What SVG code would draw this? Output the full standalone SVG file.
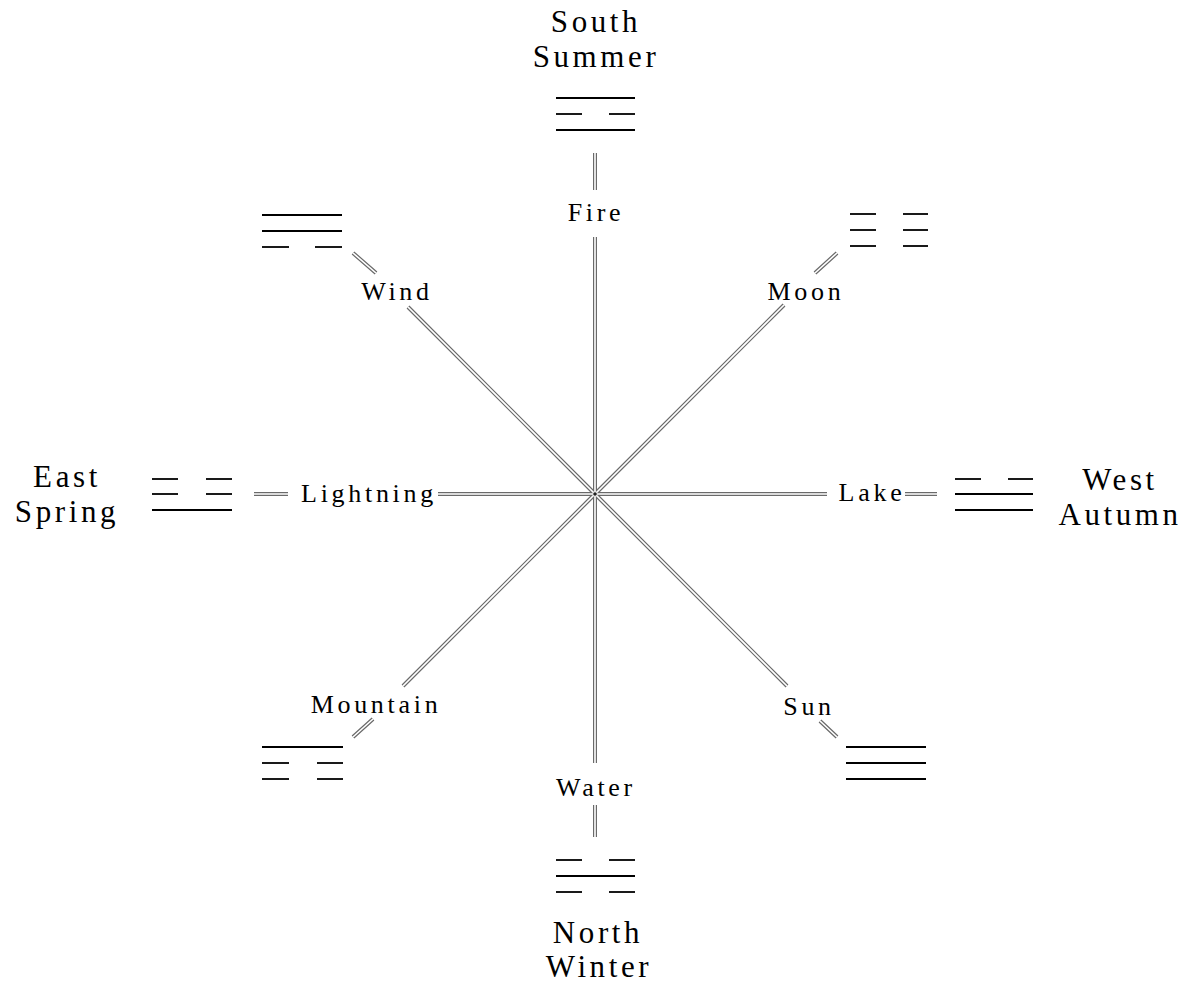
<svg xmlns="http://www.w3.org/2000/svg" xmlns:xlink="http://www.w3.org/1999/xlink" width="1186" height="983" viewBox="0 0 1186 983">
<style>
text{font-family:'Liberation Serif',serif;fill:#000;text-anchor:middle}
.big{font-size:31px;letter-spacing:3.6px}
.lbl{font-size:26px;letter-spacing:3.7px}
.tri line{stroke:#000;stroke-width:1.8}
.outer{fill:none;stroke:#6a6a6a;stroke-width:4}
.inner{fill:none;stroke:#fff;stroke-width:1.6}
</style>
<defs>
<g id="conn-paths">
<path d="M595,153 V190 M595,237 V494 V763 M595,805 V837"/>
<path d="M254,494 H288 M438,494 H827 M905,494 H937"/>
<path d="M353,253 L376,273 M408,307 L595,494 L787,686 M820,721 L837,737"/>
<path d="M837,253 L815,273 M784,305 L595,494 L403,686 M373,719 L353,737"/>
</g>
</defs>
<rect width="1186" height="983" fill="#fff"/>
<g id="connectors">
<use xlink:href="#conn-paths" class="outer"/>
<use xlink:href="#conn-paths" class="inner"/>
</g>
<g id="center">
<circle cx="595" cy="494" r="1.8" fill="#222"/>
</g>
<g id="south">
<text class="big" x="596" y="32">South</text>
<text class="big" x="596" y="67">Summer</text>
<g class="tri"><line x1="556" y1="98" x2="635" y2="98"/><line x1="556" y1="114" x2="582" y2="114"/><line x1="609" y1="114" x2="635" y2="114"/><line x1="556" y1="130" x2="635" y2="130"/></g>
<text class="lbl" x="596" y="221">Fire</text>
</g>
<g id="wind">
<g class="tri"><line x1="262" y1="215" x2="342" y2="215"/><line x1="262" y1="231" x2="342" y2="231"/><line x1="262" y1="247" x2="289" y2="247"/><line x1="315" y1="247" x2="342" y2="247"/></g>
<text class="lbl" x="397" y="300">Wind</text>
</g>
<g id="moon">
<g class="tri"><line x1="850" y1="214" x2="876" y2="214"/><line x1="903" y1="214" x2="928" y2="214"/><line x1="850" y1="230" x2="876" y2="230"/><line x1="903" y1="230" x2="928" y2="230"/><line x1="850" y1="246" x2="876" y2="246"/><line x1="903" y1="246" x2="928" y2="246"/></g>
<text class="lbl" x="806" y="300">Moon</text>
</g>
<g id="east">
<text class="big" x="67" y="487">East</text>
<text class="big" x="67" y="522">Spring</text>
<g class="tri"><line x1="152" y1="479" x2="178" y2="479"/><line x1="206" y1="479" x2="232" y2="479"/><line x1="152" y1="494" x2="178" y2="494"/><line x1="206" y1="494" x2="232" y2="494"/><line x1="152" y1="510" x2="232" y2="510"/></g>
<text class="lbl" x="369" y="502">Lightning</text>
</g>
<g id="west">
<text class="lbl" x="872" y="501">Lake</text>
<g class="tri"><line x1="955" y1="479" x2="981" y2="479"/><line x1="1008" y1="479" x2="1033" y2="479"/><line x1="955" y1="494" x2="1033" y2="494"/><line x1="955" y1="510" x2="1033" y2="510"/></g>
<text class="big" x="1120" y="490">West</text>
<text class="big" x="1120" y="525">Autumn</text>
</g>
<g id="mountain">
<text class="lbl" x="376" y="713">Mountain</text>
<g class="tri"><line x1="262" y1="747" x2="343" y2="747"/><line x1="262" y1="763" x2="289" y2="763"/><line x1="317" y1="763" x2="343" y2="763"/><line x1="262" y1="779" x2="289" y2="779"/><line x1="317" y1="779" x2="343" y2="779"/></g>
</g>
<g id="sun">
<text class="lbl" x="809" y="715">Sun</text>
<g class="tri"><line x1="846" y1="747" x2="926" y2="747"/><line x1="846" y1="763" x2="926" y2="763"/><line x1="846" y1="779" x2="926" y2="779"/></g>
</g>
<g id="north">
<text class="lbl" x="596" y="796">Water</text>
<g class="tri"><line x1="556" y1="860" x2="582" y2="860"/><line x1="609" y1="860" x2="635" y2="860"/><line x1="556" y1="876" x2="635" y2="876"/><line x1="556" y1="892" x2="582" y2="892"/><line x1="609" y1="892" x2="635" y2="892"/></g>
<text class="big" x="598" y="943">North</text>
<text class="big" x="599" y="977">Winter</text>
</g>
</svg>
